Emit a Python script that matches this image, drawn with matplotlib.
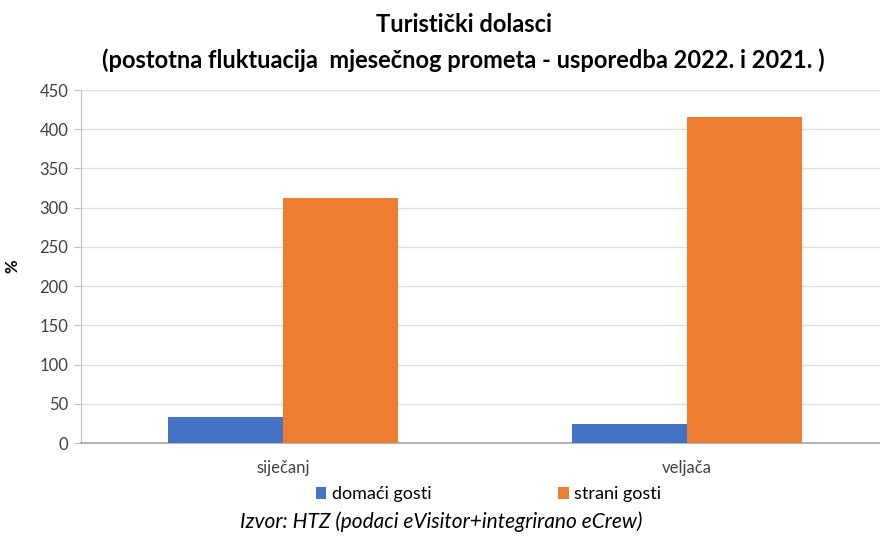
import matplotlib.pyplot as plt
import numpy as np

categories = ["siječanj", "veljača"]
domaci = [33.5, 24]
strani = [313, 416]
series_names = ["domaći gosti", "strani gosti"]
yticks = [0, 50, 100, 150, 200, 250, 300, 350, 400, 450]

plt.rcParams['font.family'] = ['Lato', 'DejaVu Sans']

fig = plt.figure(figsize=(8.8, 5.36), dpi=100)
ax = fig.add_axes([0.092, 0.1735, 0.908, 0.6585])

x = np.arange(len(categories))
w = 0.285
ax.bar(x - w / 2, domaci, w, color="#4472c4", label=series_names[0], zorder=3)
ax.bar(x + w / 2, strani, w, color="#ed7d31", label=series_names[1], zorder=3)

ax.set_xlim(-0.5, 1.478)
ax.set_ylim(0, 450)
ax.set_yticks(yticks)
ax.set_xticks(x)
ax.set_xticklabels(categories, fontsize=12, color="#404040")
ax.tick_params(axis="y", labelsize=12, labelcolor="#404040", length=5,
               color="#bfbfbf", pad=4)
ax.tick_params(axis="x", length=0, pad=12)
ax.yaxis.grid(True, color="#e0e0e0", linewidth=1, zorder=0)

for s in ["top", "right"]:
    ax.spines[s].set_visible(False)
ax.spines["left"].set_color("#bfbfbf")
ax.spines["bottom"].set_color("#a6a6a6")
ax.spines["bottom"].set_linewidth(1.2)

ax.set_ylabel("%", fontsize=12, fontweight="bold", labelpad=14)

fig.text(0.527, 0.955, "Turistički dolasci", ha="center", va="center",
         fontsize=17, fontweight="bold")
fig.text(0.527, 0.887, "(postotna fluktuacija  mjesečnog prometa - usporedba 2022. i 2021. )",
         ha="center", va="center", fontsize=17, fontweight="bold")

fig.legend(loc="center", bbox_to_anchor=(0.555, 0.078), ncol=2, frameon=False,
           fontsize=13, handlelength=0.6, handleheight=0.6, handletextpad=0.3,
           columnspacing=7)

fig.text(0.501, 0.026, "Izvor: HTZ (podaci eVisitor+integrirano eCrew)",
         ha="center", va="center", fontsize=15, style="italic")

fig.savefig("out.png", dpi=100)
